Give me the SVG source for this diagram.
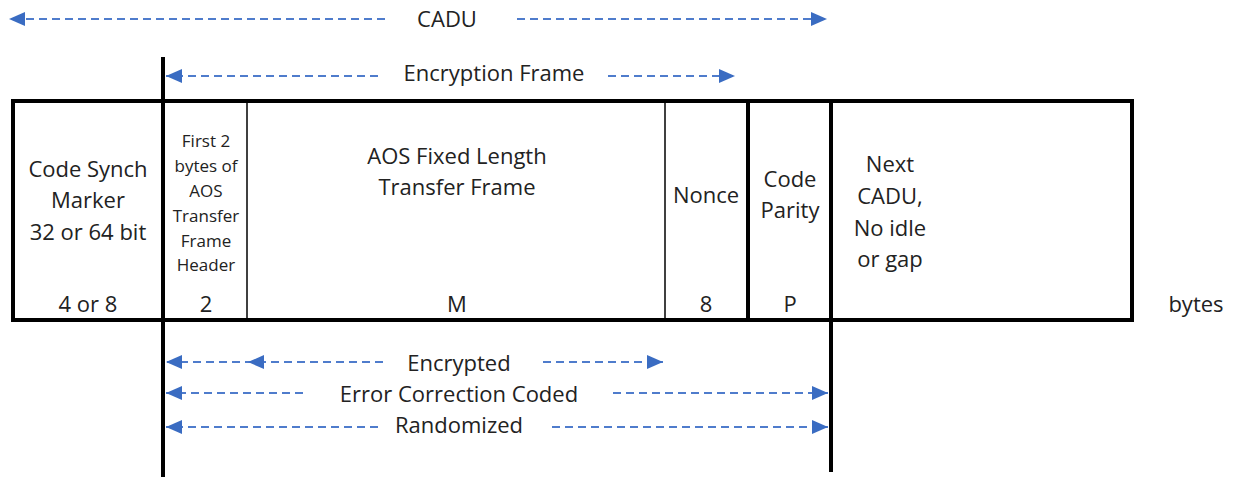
<svg xmlns="http://www.w3.org/2000/svg" width="1234" height="478" viewBox="0 0 1234 478">
  <style>
    .lbl { font-family: "Open Sans", "Noto Sans", sans-serif; font-size: 22px; fill: #222; text-anchor: middle; }
    .sm { font-family: "Open Sans", "Noto Sans", sans-serif; font-size: 17px; fill: #222; text-anchor: middle; }
    .thick { stroke: #000; stroke-width: 4; fill: none; }
    .thin { stroke: #000; stroke-width: 1.5; fill: none; }
    .dash { stroke: #4f7ccc; stroke-width: 2; stroke-dasharray: 8 5; fill: none; }
  </style>
  <defs>
    <marker id="arrow" viewBox="0 0 16 14" refX="16" refY="7" markerWidth="16" markerHeight="14" markerUnits="userSpaceOnUse" orient="auto">
      <path d="M0,0 L16,7 L0,14 z" fill="#3a6cc2"/>
    </marker>
  </defs>

  <rect width="1234" height="478" fill="#fff"/>

  <!-- frame outline and field dividers -->
  <g id="frame">
    <rect class="thick" x="13" y="101" width="1119" height="219"/>
    <line class="thin" x1="247" y1="101" x2="247" y2="320"/>
    <line class="thin" x1="665" y1="101" x2="665" y2="320"/>
    <line class="thick" x1="748" y1="101" x2="748" y2="320"/>
    <line class="thick" x1="163" y1="57" x2="163" y2="477"/>
    <line class="thick" x1="831" y1="101" x2="831" y2="472"/>
  </g>

  <g id="field-asm">
    <text class="lbl" x="88" y="177">Code Synch</text>
    <text class="lbl" x="88" y="208">Marker</text>
    <text class="lbl" x="88" y="240">32 or 64 bit</text>
    <text class="lbl" x="88" y="312">4 or 8</text>
  </g>

  <g id="field-header">
    <text class="sm" x="206" y="147">First 2</text>
    <text class="sm" x="206" y="172">bytes of</text>
    <text class="sm" x="206" y="197">AOS</text>
    <text class="sm" x="206" y="222">Transfer</text>
    <text class="sm" x="206" y="247">Frame</text>
    <text class="sm" x="206" y="271">Header</text>
    <text class="lbl" x="206" y="312">2</text>
  </g>

  <g id="field-frame">
    <text class="lbl" x="457" y="164">AOS Fixed Length</text>
    <text class="lbl" x="457" y="195">Transfer Frame</text>
    <text class="lbl" x="457" y="312">M</text>
  </g>

  <g id="field-nonce">
    <text class="lbl" x="706" y="203">Nonce</text>
    <text class="lbl" x="706" y="312">8</text>
  </g>

  <g id="field-parity">
    <text class="lbl" x="790" y="187">Code</text>
    <text class="lbl" x="790" y="218">Parity</text>
    <text class="lbl" x="790" y="312">P</text>
  </g>

  <g id="field-next">
    <text class="lbl" x="890" y="172">Next</text>
    <text class="lbl" x="890" y="204">CADU,</text>
    <text class="lbl" x="890" y="236">No idle</text>
    <text class="lbl" x="890" y="267">or gap</text>
  </g>

  <g id="unit">
    <text class="lbl" x="1196" y="312">bytes</text>
  </g>

  <!-- span labels -->
  <g id="span-labels">
    <text class="lbl" x="447" y="27">CADU</text>
    <text class="lbl" x="494" y="81">Encryption Frame</text>
    <text class="lbl" x="459" y="371">Encrypted</text>
    <text class="lbl" x="459" y="402">Error Correction Coded</text>
    <text class="lbl" x="459" y="433">Randomized</text>
  </g>

  <!-- span arrows -->
  <g id="connectors">
    <path class="dash" d="M385,19 H9" marker-end="url(#arrow)"/>
    <path class="dash" d="M517,19 H827" marker-end="url(#arrow)"/>
    <path class="dash" d="M378,76 H166" marker-end="url(#arrow)"/>
    <path class="dash" d="M608,76 H735" marker-end="url(#arrow)"/>
    <path class="dash" d="M383,362 H248 H166" marker-mid="url(#arrow)" marker-end="url(#arrow)"/>
    <path class="dash" d="M543,362 H663" marker-end="url(#arrow)"/>
    <path class="dash" d="M303,393 H166" marker-end="url(#arrow)"/>
    <path class="dash" d="M613,393 H828" marker-end="url(#arrow)"/>
    <path class="dash" d="M378,427 H166" marker-end="url(#arrow)"/>
    <path class="dash" d="M552,427 H828" marker-end="url(#arrow)"/>
  </g>
</svg>
